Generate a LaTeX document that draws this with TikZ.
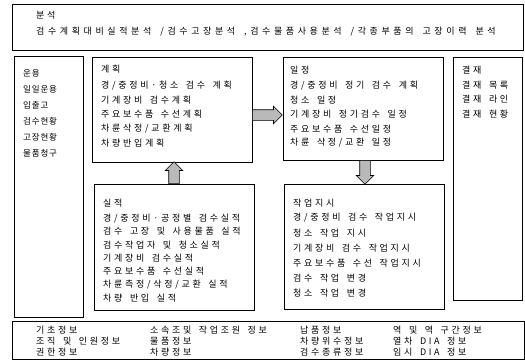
\documentclass[tikz,border=0pt]{standalone}
\usepackage{fontspec}
\setmainfont{Noto Sans CJK KR}[LetterSpace=30, WordSpace=1.6]
\usetikzlibrary{shapes.arrows}

\tikzset{
  box/.style={draw=black, line width=0.6pt, inner sep=0pt, outer sep=0pt, anchor=north west},
  txt/.style={anchor=west, inner sep=0pt, font=\fontsize{9}{10}\selectfont},
  small/.style={txt, font=\fontsize{8.5}{9}\selectfont\addfontfeature{LetterSpace=10}},
  fatarrow/.style={single arrow, draw=black, line width=0.6pt, fill=gray!55,
    inner xsep=0pt, inner ysep=5pt, single arrow head extend=3.5pt, anchor=tail}
}

\begin{document}
\begin{tikzpicture}[x=1pt, y=-1pt]
\useasboundingbox (0,0) rectangle (525,361);

% boxes
\node[box, minimum width=511pt, minimum height=46pt] (anal) at (12,4) {};
\node[box, minimum width=69pt, minimum height=261pt] (oper) at (14,56) {};
\node[box, minimum width=160pt, minimum height=105pt] (plan) at (92,57) {};
\node[box, minimum width=160pt, minimum height=126pt] (result) at (94,184) {};
\node[box, minimum width=160pt, minimum height=103pt] (sched) at (283,57) {};
\node[box, minimum width=160pt, minimum height=125pt] (order) at (284,184) {};
\node[box, minimum width=69pt, minimum height=243pt] (appr) at (453,57) {};
\node[box, minimum width=512pt, minimum height=38pt] (base) at (12,321) {};

% 분석
\node[txt] (anal-0) at (36,15) {분석};
\node[txt, font=\fontsize{9}{10}\selectfont\addfontfeature{LetterSpace=40}] (anal-1) at (36,32)
  {검수계획대비실적분석 /검수고장분석 ,검수물품사용분석 /각종부품의 고장이력 분석};

% 운용
\node[small] (oper-0) at (23,73) {운용};
\foreach \t [count=\i] in {일일운용, 입출고, 검수현황, 고장현황, 물품청구}
  \node[small] (oper-\i) at (23,{73+16*\i}) {\t};

% 계획
\node[txt] (plan-0) at (101,69) {계획};
\foreach \t [count=\i] in {경/중정비·청소 검수 계획, 기계장비 검수계획, 주요보수품 수선계획,
    차륜삭정/교환계획, 차량반입계획}
  \node[txt] (plan-\i) at (101,{71.5+14.3*\i}) {\t};

% 일정
\node[txt] (sched-0) at (290,70) {일정};
\foreach \t [count=\i] in {경/중정비 정기 검수 계획, 청소 일정, 기계장비 정기검수 일정,
    주요보수품 수선일정, 차륜 삭정/교환 일정}
  \node[txt] (sched-\i) at (290,{71.5+14.3*\i}) {\t};

% 결재
\node[txt] (appr-0) at (462,70) {결재};
\foreach \t [count=\i] in {결재 목록, 결재 라인, 결재 현황}
  \node[txt] (appr-\i) at (462,{71+14.3*\i}) {\t};

% 실적
\node[txt] (result-0) at (103,203) {실적};
\foreach \t [count=\i] in {경/중정비·공정별 검수실적, 검수 고장 및 사용물품 실적,
    검수작업자 및 청소실적, 기계장비 검수실적, 주요보수품 수선실적,
    차륜측정/삭정/교환 실적, 차량 반입 실적}
  \node[txt] (result-\i) at (103,{205+13.3*\i}) {\t};

% 작업지시
\node[txt] (order-0) at (293,203) {작업지시};
\foreach \t [count=\i] in {경/중정비 검수 작업지시, 청소 작업 지시, 기계장비 검수 작업지시,
    주요보수품 수선 작업지시, 검수 작업 변경, 청소 작업 변경}
  \node[txt] (order-\i) at (293,{203+15*\i}) {\t};

% 기초정보
\node[txt] (base-1) at (36,330) {기초정보};
\node[txt] (base-2) at (36,341) {조직 및 인원정보};
\node[txt] (base-3) at (36,352) {권한정보};
\node[txt] (base-4) at (150,330) {소속조및 작업조원 정보};
\node[txt] (base-5) at (150,341) {물품정보};
\node[txt] (base-6) at (150,352) {차량정보};
\node[txt] (base-7) at (300,330) {납품정보};
\node[txt] (base-8) at (300,341) {차량위수정보};
\node[txt] (base-9) at (300,352) {검수종류정보};
\node[txt] (base-10) at (393,330) {역 및 역 구간정보};
\node[txt] (base-11) at (393,341) {열차 DIA 정보};
\node[txt] (base-12) at (393,352) {임시 DIA 정보};

% arrows
\node[fatarrow, minimum height=30pt] (plan-sched) at ([yshift=-5.5pt]plan.east) {};
\node[fatarrow, minimum height=22pt, rotate=90] (result-plan) at (result.north) {};
\node[fatarrow, minimum height=24pt, rotate=-90] (sched-order) at ([xshift=2pt]sched.south) {};
\end{tikzpicture}
\end{document}
